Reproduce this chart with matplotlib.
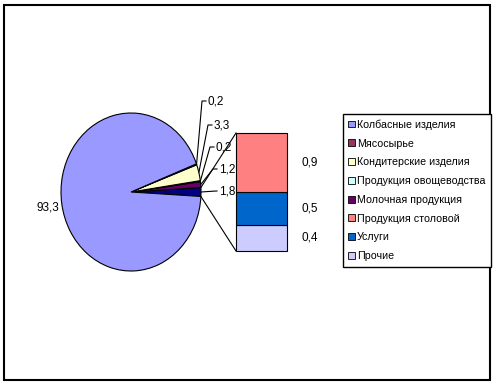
import matplotlib
matplotlib.use("Agg")
import matplotlib.pyplot as plt
import numpy as np
from matplotlib.patches import Patch, Rectangle

plt.rcParams['font.family'] = ['Liberation Sans', 'DejaVu Sans']

# pie part (first value = "other" slice shown as the bar)
pie_labels = ['Прочее', 'Молочная продукция', 'Продукция овощеводства',
              'Кондитерские изделия', 'Мясосырье', 'Колбасные изделия']
pie_values = [1.8, 1.2, 0.2, 3.3, 0.2, 93.3]
pie_colors = ['#000080', '#660066', '#CCFFFF', '#FFFFCC', '#993366', '#9999FF']

# bar part (bottom to top)
bar_labels = ['Прочие', 'Услуги', 'Продукция столовой']
bar_values = [0.4, 0.5, 0.9]
bar_colors = ['#CCCCFF', '#0066CC', '#FF8080']

legend_labels = ['Колбасные изделия', 'Мясосырье', 'Кондитерские изделия',
                 'Продукция овощеводства', 'Молочная продукция',
                 'Продукция столовой', 'Услуги', 'Прочие']
legend_colors = ['#9999FF', '#993366', '#FFFFCC', '#CCFFFF', '#660066',
                 '#FF8080', '#0066CC', '#CCCCFF']

W, H = 495, 385
fig = plt.figure(figsize=(W / 100, H / 100), dpi=100)


def px_axes(x0, y0, x1, y1):
    return fig.add_axes([x0 / W, 1 - y1 / H, (x1 - x0) / W, (y1 - y0) / H])


def fmt(v):
    return f'{v:.1f}'.replace('.', ',')


# overlay in pixel coordinates
ov = px_axes(0, 0, W, H)
ov.set_xlim(0, W)
ov.set_ylim(H, 0)
ov.axis('off')
ov.add_patch(Rectangle((4, 5), 486, 375, fill=False, lw=1.5, ec='black'))

# pie (slightly elliptical like the original)
cx, cy, rx, ry = 131, 192, 70, 79
pie_ax = px_axes(cx - rx, cy - ry, cx + rx, cy + ry)
start = -pie_values[0] / sum(pie_values) * 360 / 2
wedges, _ = pie_ax.pie(pie_values, colors=pie_colors, startangle=start,
                       counterclock=True,
                       wedgeprops=dict(edgecolor='black', linewidth=0.8))
for w in wedges:
    w.set_clip_on(False)
pie_ax.set_aspect('auto')
pie_ax.set_xlim(-1, 1)
pie_ax.set_ylim(-1, 1)


def edge(angle):
    a = np.deg2rad(angle)
    return cx + rx * np.cos(a), cy - ry * np.sin(a)


# data labels for pie
angles = np.cumsum([0] + pie_values) / sum(pie_values) * 360 + start
label_pos = [(219, 191), (219, 169), (216, 147), (214, 125), (208, 101)]
for i, (lx, ly) in enumerate(label_pos):
    mid = (angles[i] + angles[i + 1]) / 2
    ex, ey = edge(mid)
    kx = lx - 6 if i > 0 else lx - 3
    ov.plot([ex, kx, lx - 2], [ey, ly, ly], color='black', lw=0.8)
    ov.text(lx, ly, fmt(pie_values[i]), fontsize=8.5, ha='left', va='center')
ov.text(59, 208, fmt(pie_values[-1]), fontsize=8.5, ha='right', va='center')

# bar of "other"
bx0, bx1, by0, by1 = 236, 287, 133, 251
bar_ax = px_axes(bx0, by0, bx1, by1)
bottoms = np.cumsum([0] + bar_values[:-1])
bars = bar_ax.bar([0] * len(bar_values), bar_values, bottom=bottoms, width=1,
                  color=bar_colors, edgecolor='black', linewidth=0.8)
for b in bars:
    b.set_clip_on(False)
bar_ax.set_xlim(-0.5, 0.5)
bar_ax.set_ylim(0, sum(bar_values))
bar_ax.axis('off')
for b, v in zip(bottoms, bar_values):
    bar_ax.text(0.79, b + v / 2, fmt(v), fontsize=8.5,
                ha='left', va='center', clip_on=False)

# connector lines
tx, ty = edge(angles[1])
bx, byy = edge(angles[0])
ov.plot([tx, bx0], [ty, by0], color='black', lw=0.8)
ov.plot([bx, bx0], [byy, by1], color='black', lw=0.8)

# legend
handles = [Patch(facecolor=c, edgecolor='black', linewidth=0.6) for c in legend_colors]
leg = fig.legend(handles, legend_labels, loc='upper left',
                 bbox_to_anchor=(343 / W, 1 - 114 / H), borderaxespad=0,
                 fontsize=7.7, frameon=True, fancybox=False, framealpha=1,
                 edgecolor='black', handlelength=0.6, handleheight=0.6,
                 handletextpad=0.2, labelspacing=0.82, borderpad=0.5)
leg.get_frame().set_linewidth(1.0)

fig.savefig('out.png', dpi=100)
